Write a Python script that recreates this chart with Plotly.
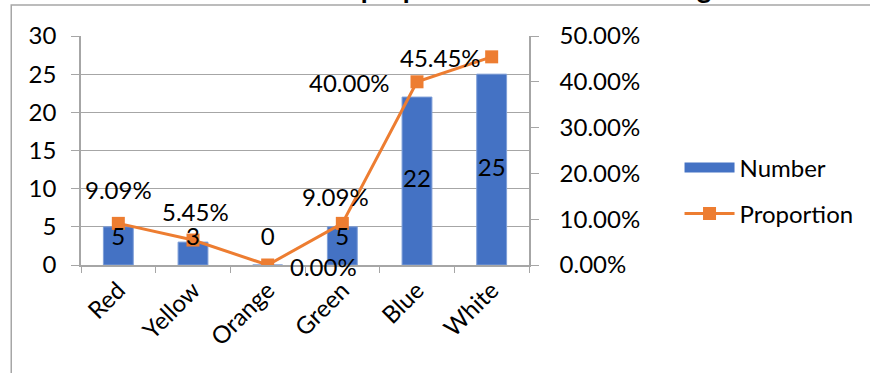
import plotly.graph_objects as go

categories = ["Red", "Yellow", "Orange", "Green", "Blue", "White"]
numbers = [5, 3, 0, 5, 22, 25]
proportions = [0.0909, 0.0545, 0.0, 0.0909, 0.40, 0.4545]
prop_labels = ["9.09%", "5.45%", "0.00%", "9.09%", "40.00%", "45.45%"]
left_ticks = [0, 5, 10, 15, 20, 25, 30]
right_ticks = [0, 0.1, 0.2, 0.3, 0.4, 0.5]
right_tick_labels = ["0.00%", "10.00%", "20.00%", "30.00%", "40.00%", "50.00%"]

LEFT_MAX = 30
RIGHT_MAX = 0.5

# label offsets (pixels) for proportion labels, as placed in the original
prop_offsets = [(0, -34), (2, -29), (56, 1), (-7, -27), (-68, 1), (-51, 1)]

FONT = "Lato"
FS = 24
BLUE = "#4472C4"
ORANGE = "#ED7D31"
GRID = "#A6A6A6"

fig = go.Figure()
fig.add_trace(go.Bar(
    x=categories, y=numbers, name="Number", marker=dict(color=BLUE, line=dict(color="#7f9fd8", width=1)),
    width=0.4, yaxis="y", showlegend=False,
))
# legend entry for the bars (wide rectangle like the original)
fig.add_trace(go.Scatter(
    x=[None], y=[None], name="Number", mode="lines", line=dict(color=BLUE, width=12),
    legendgroup="a", yaxis="y",
))
fig.add_trace(go.Scatter(
    x=categories, y=proportions, name="Proportion", yaxis="y2", mode="lines+markers",
    line=dict(color=ORANGE, width=3), marker=dict(symbol="square", size=13, color=ORANGE),
    legendgroup="b",
))
# number labels centered in bars (drawn on the secondary axis so they sit above the line)
fig.add_trace(go.Scatter(
    x=categories, y=[max(v / 2, 3.4) * RIGHT_MAX / LEFT_MAX for v in numbers], text=[str(v) for v in numbers],
    mode="text", textfont=dict(family=FONT, size=FS, color="black"), showlegend=False, yaxis="y2",
    hoverinfo="skip",
))

for c, p, lab, (ax, ay) in zip(categories, proportions, prop_labels, prop_offsets):
    fig.add_annotation(x=c, y=p, xref="x", yref="y2", text=lab, showarrow=True, arrowcolor="rgba(0,0,0,0)",
                       ax=ax, ay=ay, font=dict(family=FONT, size=FS, color="black"))

fig.add_annotation(x=0.262, y=1.131, xref="paper", yref="paper", xanchor="left", yanchor="bottom",
                   text="<b>Number and proportion of cars according to colour</b>", showarrow=False,
                   font=dict(family=FONT, size=28, color="black"))

fig.add_shape(type="rect", xref="paper", yref="paper", x0=-0.1557, x1=2.0, y0=-1.0, y1=1.135,
              line=dict(color="#A6A6A6", width=1.5), fillcolor="rgba(0,0,0,0)", layer="below")

fig.update_layout(
    width=870, height=373,
    margin=dict(l=81, r=333, t=36, b=108),
    paper_bgcolor="white", plot_bgcolor="white",
    font=dict(family=FONT, size=FS, color="black"),
    showlegend=True,
    legend=dict(x=1.336, y=0.324, xanchor="left", yanchor="middle", font=dict(family=FONT, size=FS),
                tracegroupgap=12, traceorder="grouped", itemwidth=50),
    xaxis=dict(type="category", tickangle=-45, showline=True, linecolor=GRID, linewidth=1.5,
               ticks="outside", tickson="boundaries", tickcolor=GRID, ticklen=6, showgrid=False,
               tickfont=dict(family=FONT, size=FS)),
    yaxis=dict(range=[0, LEFT_MAX], tickvals=left_ticks, showline=True, linecolor=GRID, linewidth=1.5,
               ticks="outside", tickcolor=GRID, ticklen=8, showgrid=True, gridcolor=GRID, gridwidth=1.2,
               tickfont=dict(family=FONT, size=FS), zeroline=False, ticklabelstandoff=10),
    yaxis2=dict(range=[0, RIGHT_MAX], tickvals=right_ticks, ticktext=right_tick_labels, overlaying="y", side="right",
                showline=True, linecolor=GRID, linewidth=1.5, ticks="outside", tickcolor=GRID, ticklen=8,
                showgrid=False, tickfont=dict(family=FONT, size=FS), zeroline=False, ticklabelstandoff=16),
    bargap=0.6,
)

fig.write_html("out.html")
